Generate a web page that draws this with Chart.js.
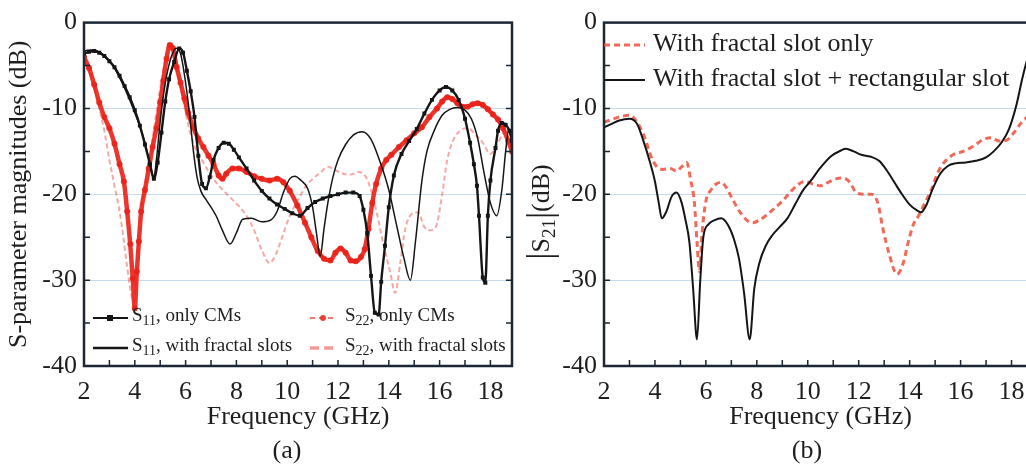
<!DOCTYPE html>
<html>
<head>
<meta charset="utf-8">
<script src="https://cdn.jsdelivr.net/npm/chart.js@4.4.0/dist/chart.umd.min.js"></script>
<style>
  html, body { margin: 0; padding: 0; background: #fff; overflow: hidden; width: 1026px; height: 468px; }
  #wrapA { position: absolute; left: 0; top: 0; width: 520px; height: 468px; }
  #wrapB { position: absolute; left: 520px; top: 0; width: 525px; height: 468px; }
</style>
</head>
<body>
<div id="wrapA"><canvas id="chartA" width="520" height="468"></canvas></div>
<div id="wrapB"><canvas id="chartB" width="525" height="468"></canvas></div>
<script>
// ---- tick labels ----
var xTicks = [2, 4, 6, 8, 10, 12, 14, 16, 18];
var yTicks = [0, -10, -20, -30, -40];
var gridVals = [-10, -20, -30];

// ---- panel (a): S11, only CMs ----
var s11CmFreq = [2.0, 2.2, 2.4, 2.6, 2.8, 3.0, 3.2, 3.4, 3.6, 3.8, 4.0, 4.2, 4.4, 4.6, 4.75, 4.9, 5.05, 5.2, 5.35, 5.55, 5.75, 5.9, 6.05, 6.2, 6.35, 6.5, 6.65, 6.8, 6.95, 7.1, 7.3, 7.5, 7.7, 7.9, 8.1, 8.4, 8.7, 9.0, 9.3, 9.6, 9.9, 10.2, 10.5, 10.8, 11.1, 11.4, 11.7, 12.0, 12.3, 12.6, 12.85, 13.0, 13.15, 13.3, 13.45, 13.6, 13.7, 13.85, 14.0, 14.2, 14.5, 14.8, 15.1, 15.4, 15.7, 16.0, 16.25, 16.5, 16.75, 17.0, 17.2, 17.35, 17.47, 17.55, 17.7, 17.8, 17.9, 18.0, 18.2, 18.3, 18.45, 18.6, 18.75, 18.85];
var s11CmDb = [-3.6, -3.4, -3.3, -3.5, -3.9, -4.5, -5.2, -6.2, -7.4, -8.7, -10.2, -12.0, -14.2, -16.5, -18.2, -16.3, -12.8, -9.2, -6.6, -4.6, -3.0, -3.5, -5.6, -8.0, -11.0, -15.5, -18.8, -19.3, -18.0, -16.0, -14.6, -14.0, -14.1, -14.8, -15.7, -17.0, -18.4, -19.6, -20.5, -21.2, -21.7, -22.2, -22.5, -21.6, -20.9, -20.5, -20.2, -20.0, -19.8, -19.8, -20.2, -21.8, -24.5, -29.5, -33.8, -34.0, -30.2, -26.0, -21.5, -17.8, -15.3, -13.8, -12.4, -10.6, -9.0, -7.9, -7.5, -7.9, -9.0, -11.2, -14.0, -16.5, -19.0, -22.5, -29.7, -30.3, -22.5, -18.4, -14.6, -12.6, -11.7, -11.9, -12.6, -13.8];

// ---- panel (a): S11, with fractal slots ----
var s11FrFreq = [2.0, 2.3, 2.6, 3.0, 3.4, 3.8, 4.1, 4.4, 4.6, 4.75, 4.85, 5.0, 5.15, 5.3, 5.5, 5.65, 5.8, 5.95, 6.15, 6.3, 6.45, 6.6, 6.8, 7.0, 7.2, 7.45, 7.75, 8.0, 8.25, 8.6, 9.0, 9.35, 9.6, 9.85, 10.1, 10.3, 10.55, 10.8, 11.0, 11.15, 11.3, 11.45, 11.6, 11.8, 12.0, 12.3, 12.6, 12.95, 13.3, 13.7, 14.0, 14.3, 14.6, 14.85, 15.05, 15.3, 15.5, 15.8, 16.1, 16.4, 16.7, 17.0, 17.25, 17.5, 17.75, 18.0, 18.25, 18.45, 18.6, 18.72, 18.85];
var s11FrDb = [-3.3, -3.2, -3.4, -4.4, -6.4, -9.0, -11.3, -14.0, -16.5, -18.0, -16.0, -11.5, -8.0, -5.5, -3.5, -3.0, -3.6, -6.0, -10.5, -14.8, -18.0, -19.6, -20.6, -21.5, -22.5, -24.2, -25.8, -24.5, -22.9, -22.8, -23.2, -23.0, -22.0, -19.8, -18.2, -17.9, -18.4, -19.3, -21.5, -24.5, -27.2, -24.0, -21.0, -18.0, -16.0, -14.2, -13.1, -12.7, -13.6, -16.6, -19.5, -23.5, -27.5, -30.0, -25.5, -18.5, -15.0, -12.5, -10.8, -10.1, -9.9, -10.2, -11.2, -13.5, -17.5, -21.0, -22.5, -19.5, -15.0, -12.5, -12.5];

// ---- panel (a): S22, only CMs ----
var s22CmFreq = [2.0, 2.2, 2.4, 2.6, 2.8, 3.0, 3.2, 3.4, 3.57, 3.7, 3.82, 3.92, 4.0, 4.08, 4.16, 4.25, 4.4, 4.55, 4.7, 4.85, 5.0, 5.12, 5.25, 5.38, 5.5, 5.65, 5.8, 5.95, 6.1, 6.3, 6.5, 6.7, 6.9, 7.1, 7.3, 7.45, 7.6, 7.85, 8.1, 8.4, 8.7, 9.0, 9.3, 9.6, 9.85, 10.1, 10.4, 10.7, 10.95, 11.2, 11.45, 11.7, 11.9, 12.1, 12.3, 12.5, 12.7, 12.9, 13.05, 13.2, 13.35, 13.5, 13.7, 13.9, 14.1, 14.4, 14.7, 15.0, 15.3, 15.6, 15.9, 16.1, 16.3, 16.5, 16.7, 16.9, 17.1, 17.3, 17.5, 17.7, 17.9, 18.1, 18.3, 18.5, 18.7, 18.85];
var s22CmDb = [-4.0, -5.3, -7.2, -9.3, -11.0, -12.3, -14.1, -16.5, -18.5, -22.0, -25.8, -29.8, -33.3, -29.0, -25.5, -22.0, -19.5, -17.0, -14.5, -12.3, -9.3, -6.8, -4.2, -2.6, -3.0, -5.2, -7.0, -8.8, -10.5, -12.2, -13.5, -14.5, -15.5, -16.5, -17.8, -18.2, -17.6, -17.0, -17.0, -17.4, -17.9, -18.2, -18.4, -18.2, -18.6, -19.6, -21.3, -23.3, -25.0, -26.6, -27.5, -27.7, -26.8, -26.3, -26.8, -27.7, -27.8, -27.3, -26.4, -24.0, -21.0, -18.8, -17.0, -16.0, -15.4, -14.5, -13.7, -12.9, -12.2, -11.0, -10.0, -9.2, -8.7, -8.9, -9.4, -9.8, -9.8, -9.5, -9.4, -9.6, -10.1, -10.7, -11.3, -12.3, -13.8, -15.0];

// ---- panel (a): S22, with fractal slots ----
var s22FrFreq = [2.0, 2.2, 2.4, 2.6, 2.8, 3.0, 3.2, 3.4, 3.55, 3.7, 3.85, 3.95, 4.05, 4.15, 4.3, 4.45, 4.6, 4.75, 4.9, 5.05, 5.2, 5.33, 5.45, 5.6, 5.8, 6.0, 6.2, 6.4, 6.6, 6.9, 7.2, 7.5, 7.8, 8.1, 8.4, 8.7, 9.0, 9.3, 9.55, 9.8, 10.1, 10.4, 10.7, 11.0, 11.3, 11.6, 11.9, 12.2, 12.5, 12.8, 13.1, 13.35, 13.55, 13.8, 14.05, 14.25, 14.45, 14.65, 14.9, 15.15, 15.4, 15.6, 15.85, 16.1, 16.3, 16.55, 16.8, 17.1, 17.4, 17.7, 18.0, 18.3, 18.55, 18.85];
var s22FrDb = [-4.2, -5.5, -7.5, -10.0, -12.6, -16.0, -19.0, -22.0, -25.0, -28.5, -31.5, -32.5, -30.0, -25.5, -21.0, -18.0, -15.5, -12.5, -9.5, -6.8, -4.3, -2.4, -2.8, -4.8, -7.5, -10.5, -13.0, -14.8, -15.8, -17.3, -18.6, -19.6, -20.5, -21.4, -22.5, -24.2, -26.5, -28.0, -27.0, -25.0, -22.5, -20.8, -19.2, -18.2, -17.5, -16.8, -17.2, -17.6, -17.7, -17.4, -18.0, -20.0, -22.5, -26.0, -29.0, -31.5, -28.0, -24.0, -22.3, -22.1, -23.8, -24.2, -23.8, -20.0, -16.0, -13.6, -12.6, -12.3, -13.0, -14.0, -15.3, -14.0, -12.8, -14.5];

// ---- panel (b): |S21|, with fractal slot only ----
var s21FrFreq = [2.0, 2.3, 2.6, 3.0, 3.3, 3.6, 3.85, 4.05, 4.3, 4.6, 4.85, 5.05, 5.25, 5.4, 5.55, 5.65, 5.75, 5.85, 6.0, 6.2, 6.4, 6.6, 6.8, 7.0, 7.3, 7.6, 7.85, 8.1, 8.4, 8.7, 9.0, 9.3, 9.6, 9.9, 10.2, 10.5, 10.8, 11.1, 11.4, 11.65, 11.9, 12.2, 12.5, 12.75, 12.95, 13.2, 13.5, 13.75, 13.95, 14.15, 14.35, 14.6, 14.85, 15.1, 15.35, 15.7, 16.1, 16.5, 16.9, 17.2, 17.5, 17.8, 18.1, 18.4, 18.7];
var s21FrDb = [-11.6, -11.3, -11.0, -10.8, -11.6, -13.4, -15.6, -16.7, -17.1, -17.0, -17.3, -16.8, -16.3, -18.3, -21.0, -25.5, -29.0, -24.5, -20.8, -19.5, -18.8, -18.6, -19.2, -20.3, -21.9, -23.0, -23.3, -23.0, -22.4, -21.6, -20.8, -19.8, -18.9, -18.5, -18.8, -19.0, -18.6, -18.2, -18.1, -18.6, -19.8, -20.0, -20.0, -21.0, -24.0, -27.0, -29.3, -28.0, -25.5, -23.5, -22.5, -21.0, -19.5, -17.5, -16.3, -15.4, -15.0, -14.4, -13.6, -13.4, -13.8, -13.7, -12.8, -11.6, -10.8];

// ---- panel (b): |S21|, with fractal slot + rectangular slot ----
var s21RectFreq = [2.0, 2.3, 2.6, 3.0, 3.3, 3.55, 3.8, 4.0, 4.15, 4.27, 4.45, 4.65, 4.85, 5.05, 5.2, 5.35, 5.5, 5.65, 5.78, 5.9, 6.1, 6.35, 6.6, 6.85, 7.1, 7.3, 7.5, 7.72, 7.9, 8.1, 8.35, 8.6, 8.9, 9.2, 9.5, 9.8, 10.1, 10.5, 10.9, 11.3, 11.5, 11.8, 12.1, 12.45, 12.8, 13.1, 13.4, 13.7, 14.0, 14.3, 14.45, 14.65, 14.9, 15.2, 15.5, 15.8, 16.2, 16.6, 17.0, 17.3, 17.6, 17.9, 18.2, 18.4, 18.55, 18.7];
var s21RectDb = [-12.2, -11.8, -11.4, -11.2, -11.8, -13.8, -16.2, -18.5, -21.0, -22.8, -22.0, -20.3, -19.8, -21.0, -23.0, -25.5, -31.0, -36.9, -30.0, -25.0, -23.5, -23.0, -22.8, -23.5, -25.2, -27.5, -31.5, -36.9, -31.0, -28.0, -26.0, -24.8, -23.8, -22.8, -21.2, -19.6, -18.5, -16.9, -15.6, -14.9, -14.7, -15.0, -15.4, -15.6, -16.1, -17.2, -18.6, -20.0, -21.2, -21.9, -22.1, -21.3, -19.4, -17.6, -16.7, -16.4, -16.3, -16.1, -15.7, -15.0, -14.0, -12.4, -9.5, -6.8, -5.0, -3.5];

var SERIF = '"Liberation Serif", "Times New Roman", serif';
Chart.defaults.font.family = SERIF;

function pts(xs, ys) {
    return xs.map(function(x, i) { return { x: x, y: ys[i] }; });
}

function drawParts(ctx, parts, x, y, size) {
    // parts: [text, isSubscript, sizeOverride]
    parts.forEach(function(p) {
        var s = p[2] || (p[1] ? Math.round(size * 0.72) : size);
        ctx.font = s + 'px ' + SERIF;
        ctx.fillText(p[0], x, p[1] ? y + size * 0.3 : y);
        x += ctx.measureText(p[0]).width;
    });
    return x;
}
function partsWidth(ctx, parts, size) {
    var w = 0;
    parts.forEach(function(p) {
        var s = p[2] || (p[1] ? Math.round(size * 0.72) : size);
        ctx.font = s + 'px ' + SERIF;
        w += ctx.measureText(p[0]).width;
    });
    return w;
}

function makeScales(maxX, yTitle) {
    return {
        x: {
            type: 'linear', min: 2, max: maxX,
            afterBuildTicks: function(s) { s.ticks = xTicks.map(function(v) { return { value: v }; }); },
            afterFit: function(s) { s.height = 67; },
            grid: { display: false, drawTicks: false },
            border: { display: false },
            ticks: { font: { size: 26 }, color: '#1e1e1e', padding: 11, maxRotation: 0, autoSkip: false },
            title: { display: true, text: 'Frequency (GHz)', font: { size: 26 }, color: '#1e1e1e', padding: 0 }
        },
        y: {
            min: -40, max: 0,
            afterBuildTicks: function(s) { s.ticks = yTicks.map(function(v) { return { value: v }; }); },
            afterFit: function(s) { s.width = 84; },
            grid: {
                drawTicks: false, lineWidth: 1,
                color: function(c) { return (c.tick && gridVals.indexOf(c.tick.value) >= 0) ? '#c4dbeb' : 'rgba(0,0,0,0)'; }
            },
            border: { display: false },
            ticks: { font: { size: 26 }, color: '#1e1e1e', padding: 7 },
            title: yTitle ? { display: true, text: yTitle, font: { size: 26 }, color: '#1e1e1e', padding: { top: 4, bottom: 0 } } : { display: false }
        }
    };
}

// frame + inward minor ticks
var framePlugin = {
    id: 'frame',
    afterDatasetsDraw: function(chart, args, opts) {
        var ctx = chart.ctx, a = chart.chartArea, x = chart.scales.x, y = chart.scales.y;
        ctx.save();
        ctx.strokeStyle = '#1b2733';
        ctx.lineWidth = 1.5;
        ctx.beginPath();
        for (var f = 3; f <= 18; f++) {
            var px = x.getPixelForValue(f);
            ctx.moveTo(px, a.bottom); ctx.lineTo(px, a.bottom - 6);
        }
        for (var v = -35; v <= -5; v += 5) {
            var py = y.getPixelForValue(v);
            ctx.moveTo(a.left, py); ctx.lineTo(a.left + 6, py);
            ctx.moveTo(a.right, py); ctx.lineTo(a.right - 6, py);
        }
        ctx.stroke();
        ctx.lineWidth = 2.5;
        ctx.strokeRect(a.left, a.top, a.right - a.left, a.bottom - a.top);
        ctx.restore();
    },
    afterDraw: function(chart, args, opts) {
        var ctx = chart.ctx;
        ctx.save();
        ctx.fillStyle = '#1e1e1e';
        ctx.textBaseline = 'middle';
        ctx.textAlign = 'center';
        ctx.font = '26px ' + SERIF;
        ctx.fillText(opts.caption, 287, 451);
        ctx.restore();
    }
};

// legend of panel (a)
var legendA = {
    id: 'legendA',
    afterDraw: function(chart) {
        var ctx = chart.ctx;
        ctx.save();
        ctx.textBaseline = 'middle';
        ctx.textAlign = 'left';
        ctx.fillStyle = '#1e1e1e';
        // S11 only CMs
        ctx.strokeStyle = '#151515'; ctx.lineWidth = 2;
        ctx.beginPath(); ctx.moveTo(93, 318); ctx.lineTo(128, 318); ctx.stroke();
        ctx.fillStyle = '#151515'; ctx.fillRect(107, 315, 6, 6);
        // S11 fractal
        ctx.beginPath(); ctx.moveTo(93, 348); ctx.lineTo(128, 348); ctx.lineWidth = 2.5; ctx.stroke();
        // S22 only CMs
        ctx.strokeStyle = 'rgba(236,90,80,0.8)'; ctx.lineWidth = 2;
        ctx.setLineDash([5, 4]);
        ctx.beginPath(); ctx.moveTo(310, 318); ctx.lineTo(337, 318); ctx.stroke();
        ctx.setLineDash([]);
        ctx.fillStyle = 'rgba(236,50,40,0.9)';
        ctx.beginPath(); ctx.arc(323, 318, 3, 0, Math.PI * 2); ctx.fill();
        // S22 fractal
        ctx.strokeStyle = 'rgba(240,120,110,0.75)'; ctx.lineWidth = 3.5;
        ctx.setLineDash([9, 5]);
        ctx.beginPath(); ctx.moveTo(310, 348); ctx.lineTo(337, 348); ctx.stroke();
        ctx.setLineDash([]);
        ctx.fillStyle = '#1e1e1e';
        drawParts(ctx, [['S'], ['11', true], [', only CMs']], 132, 316, 19);
        drawParts(ctx, [['S'], ['11', true], [', with fractal slots']], 132, 346, 19);
        drawParts(ctx, [['S'], ['22', true], [', only CMs']], 345, 316, 19);
        drawParts(ctx, [['S'], ['22', true], [', with fractal slots']], 345, 346, 19);
        ctx.restore();
    }
};

// legend and y title of panel (b)
var legendB = {
    id: 'legendB',
    afterDraw: function(chart) {
        var ctx = chart.ctx;
        ctx.save();
        ctx.textBaseline = 'middle';
        ctx.textAlign = 'left';
        ctx.strokeStyle = 'rgba(236,80,60,0.85)'; ctx.lineWidth = 3;
        ctx.setLineDash([6, 4]);
        ctx.beginPath(); ctx.moveTo(84, 45); ctx.lineTo(125, 45); ctx.stroke();
        ctx.setLineDash([]);
        ctx.strokeStyle = '#151515'; ctx.lineWidth = 2;
        ctx.beginPath(); ctx.moveTo(84, 80); ctx.lineTo(125, 80); ctx.stroke();
        ctx.fillStyle = '#1e1e1e';
        ctx.font = '26px ' + SERIF;
        ctx.fillText('With fractal slot only', 133, 44);
        ctx.fillText('With fractal slot + rectangular slot', 133, 79);
        // rotated |S21|(dB)
        var parts = [['|', false, 36], ['S'], ['21', true], ['|', false, 36], ['(dB)']];
        var w = partsWidth(ctx, parts, 26);
        ctx.translate(22, 212);
        ctx.rotate(-Math.PI / 2);
        drawParts(ctx, parts, -w / 2, 0, 26);
        ctx.restore();
    }
};

var commonOpts = {
    responsive: false,
    animation: false,
    events: [],
    plugins: { legend: { display: false }, tooltip: { enabled: false } },
    elements: { line: { cubicInterpolationMode: 'monotone' } }
};

new Chart(document.getElementById('chartA').getContext('2d'), {
    type: 'line',
    data: {
        datasets: [{
            label: 'S11, only CMs',
            data: pts(s11CmFreq, s11CmDb),
            borderColor: '#151515', backgroundColor: '#151515',
            borderWidth: 2.4, pointStyle: 'rect', pointRadius: 2.8, pointBorderWidth: 0
        }, {
            label: 'S11, with fractal slots',
            data: pts(s11FrFreq, s11FrDb),
            borderColor: '#151515', borderWidth: 1.5, pointRadius: 0
        }, {
            label: 'S22, only CMs',
            data: pts(s22CmFreq, s22CmDb),
            borderColor: 'rgba(234,36,26,0.92)', backgroundColor: 'rgba(234,36,26,0.92)',
            borderWidth: 4.5, pointStyle: 'circle', pointRadius: 3, pointBorderWidth: 0
        }, {
            label: 'S22, with fractal slots',
            data: pts(s22FrFreq, s22FrDb),
            borderColor: 'rgba(240,110,100,0.6)', borderWidth: 2, borderDash: [5, 3], pointRadius: 0
        }]
    },
    options: Object.assign({}, commonOpts, {
        layout: { padding: { left: 0, right: 8, top: 21, bottom: 35 } },
        scales: makeScales(18.85, 'S-parameter magnitudes (dB)'),
        plugins: Object.assign({}, commonOpts.plugins, { frame: { caption: '(a)' } })
    }),
    plugins: [framePlugin, legendA]
});

var scalesB = makeScales(19, null);
scalesB.y.title = { display: false };
new Chart(document.getElementById('chartB').getContext('2d'), {
    type: 'line',
    data: {
        datasets: [{
            label: 'With fractal slot + rectangular slot',
            data: pts(s21RectFreq, s21RectDb),
            borderColor: '#151515', borderWidth: 2, pointRadius: 0
        }, {
            label: 'With fractal slot only',
            data: pts(s21FrFreq, s21FrDb),
            borderColor: 'rgba(236,80,60,0.85)', borderWidth: 3, borderDash: [6, 4], pointRadius: 0
        }]
    },
    options: Object.assign({}, commonOpts, {
        layout: { padding: { left: 0, right: 8, top: 21, bottom: 35 } },
        scales: scalesB,
        plugins: Object.assign({}, commonOpts.plugins, { frame: { caption: '(b)' } })
    }),
    plugins: [framePlugin, legendB]
});
</script>
</body>
</html>
